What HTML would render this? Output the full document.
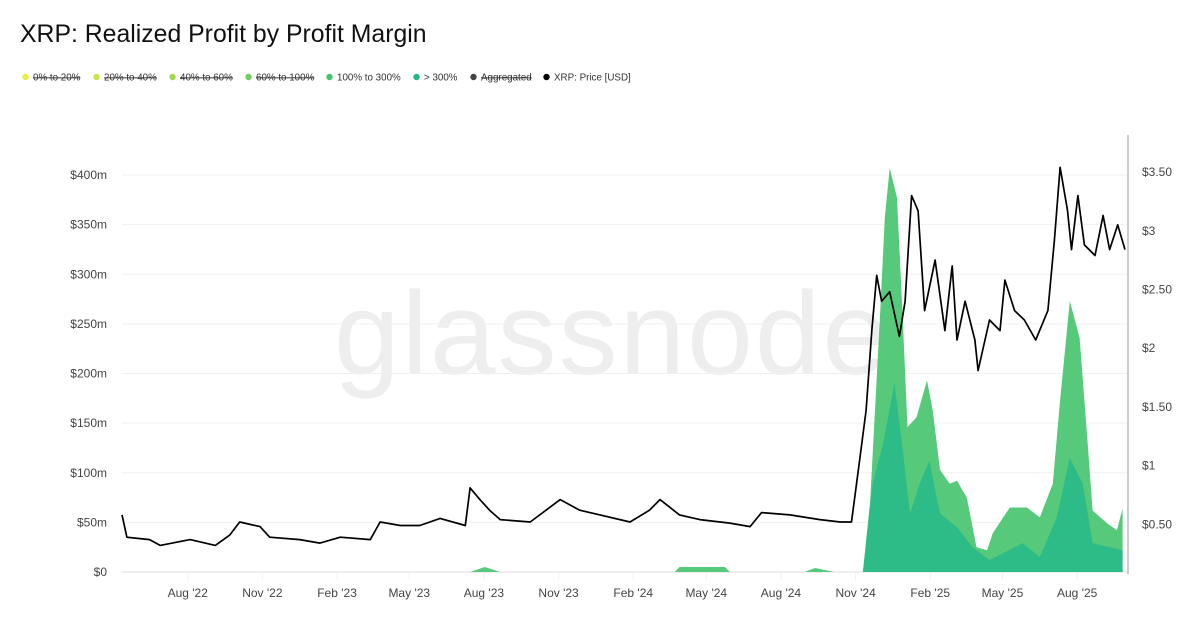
<!DOCTYPE html>
<html><head><meta charset="utf-8"><style>
body{margin:0;background:#fff;font-family:"Liberation Sans",sans-serif}
#wrap{position:relative;width:1200px;height:628px;overflow:hidden}
</style></head><body>
<div id="wrap">
<svg id="chart" width="1200" height="628">
<text x="20" y="42" font-size="24.8" fill="#111">XRP: Realized Profit by Profit Margin</text>
<g id="legend"></g>
<text x="612" y="374" font-size="118" fill="#eeeeee" text-anchor="middle" letter-spacing="2">glassnode</text>
<g id="grid"></g><g id="areas"></g><g id="line"></g><g id="axes"></g>
</svg>
</div>
<script>
const legendLabels=["0% to 20%","20% to 40%","40% to 60%","60% to 100%","100% to 300%","> 300%","Aggregated","XRP: Price [USD]"];
const legendColors=["#e6f03c","#c7e64a","#9fd94f","#6fcf5c","#45c46e","#25b882","#444","#000"];
const legendStruck=[true,true,true,true,false,false,true,false];
const leftTicks=[0,50,100,150,200,250,300,350,400];
const leftTickLabels=["$0","$50m","$100m","$150m","$200m","$250m","$300m","$350m","$400m"];
const rightTicks=[0.5,1,1.5,2,2.5,3,3.5];
const rightTickLabels=["$0.50","$1","$1.50","$2","$2.50","$3","$3.50"];
const xTickDays=[81,173,265,354,446,538,630,720,812,904,996,1085,1177];
const xTickLabels=["Aug '22","Nov '22","Feb '23","May '23","Aug '23","Nov '23","Feb '24","May '24","Aug '24","Nov '24","Feb '25","May '25","Aug '25"];
// days since 2022-05-12
const priceDays=[0,6,34,47,84,115,133,145,170,182,219,244,269,306,318,343,367,392,423,429,441,453,466,503,540,564,589,626,650,663,687,712,749,774,788,823,860,885,899,909,917,924,930,936,946,958,965,973,981,989,1002,1014,1023,1029,1039,1051,1055,1069,1082,1088,1100,1112,1126,1141,1149,1156,1165,1170,1178,1186,1199,1209,1217,1227,1236];
const price=[0.58,0.39,0.37,0.32,0.37,0.32,0.41,0.52,0.48,0.39,0.37,0.34,0.39,0.37,0.52,0.49,0.49,0.55,0.49,0.81,0.71,0.62,0.54,0.52,0.71,0.62,0.58,0.52,0.62,0.71,0.58,0.54,0.51,0.48,0.60,0.58,0.54,0.52,0.52,1.05,1.47,2.15,2.62,2.40,2.48,2.10,2.40,3.30,3.17,2.32,2.75,2.15,2.70,2.07,2.40,2.07,1.81,2.24,2.15,2.58,2.32,2.24,2.07,2.32,2.92,3.54,3.18,2.84,3.30,2.88,2.79,3.13,2.84,3.05,2.84];
const profit100Days=[0,429,447,466,681,687,743,749,841,854,878,913,922,934,940,946,955,962,968,979,992,999,1008,1020,1029,1041,1053,1066,1073,1094,1115,1131,1147,1156,1168,1180,1189,1196,1214,1226,1233];
const profit100=[0,0,5,0,0,5,5,0,0,4,0,0,72,256,357,407,377,256,146,156,193,163,103,89,92,75,25,22,39,65,65,55,89,173,273,236,140,62,49,42,64];
const profit300Days=[0,913,925,938,952,962,971,983,995,1008,1029,1048,1069,1110,1131,1152,1168,1184,1196,1233];
const profit300=[0,0,89,130,190,123,59,89,112,59,45,25,12,29,15,55,115,89,29,22];

const NS="http://www.w3.org/2000/svg";
const X0=122,X1=1127,PX=0.8115;
const xS=d=>X0+d*PX;
const yL=v=>572-v*0.9925;
const yR=p=>583-p*117.4;
function mk(tag,attrs,parent){const e=document.createElementNS(NS,tag);for(const k in attrs)e.setAttribute(k,attrs[k]);parent.appendChild(e);return e;}
const lg=document.getElementById('legend');
let lx=22;
const widths=[71,76,76,81,87,57,73,100];
legendLabels.forEach((t,i)=>{
  const c=mk('circle',{cx:lx+3.5,cy:77,r:3.2,fill:legendColors[i]},lg);
  
  
  const tx=mk('text',{x:lx+11,y:80.5,'font-size':9.8,fill:'#333'},lg);
  tx.textContent=t;
  if(legendStruck[i])tx.setAttribute('text-decoration','line-through');
  
  
  lx+=widths[i];
});
const grid=document.getElementById('grid'),axes=document.getElementById('axes');
leftTicks.forEach((v,i)=>{
  const l=mk('line',{x1:X0,x2:X1,y1:yL(v),y2:yL(v),stroke:'#f0f0f0','stroke-width':1},grid);
  
  
  const t=mk('text',{x:107,y:yL(v)+4,'font-size':12,fill:'#444','text-anchor':'end'},axes);
  t.textContent=leftTickLabels[i];
  
  
});
rightTicks.forEach((v,i)=>{
  const t=mk('text',{x:1142,y:yR(v)+4,'font-size':12,fill:'#444'},axes);
  t.textContent=rightTickLabels[i];
  
  
});
const ra=mk('line',{x1:1128,x2:1128,y1:135,y2:574,stroke:'#999','stroke-width':1},axes);


xTickDays.forEach((d,i)=>{
  const tk=mk('line',{x1:xS(d),x2:xS(d),y1:573,y2:580,stroke:'#f0f0f0'},grid);
  
  
  const t=mk('text',{x:xS(d),y:597,'font-size':12,fill:'#444','text-anchor':'middle'},axes);
  t.textContent=xTickLabels[i];
  
  
});
function area(days,vals,fill,name){
  let d='M'+xS(days[0])+','+yL(0);
  days.forEach((dd,i)=>{d+=' L'+xS(dd).toFixed(1)+','+yL(vals[i]).toFixed(1);});
  d+=' L'+xS(days[days.length-1])+','+yL(0)+' Z';
  const p=mk('path',{d:d,fill:fill},document.getElementById('areas'));
  
  
}
area(profit100Days,profit100,'#56c97a','area-100-to-300');
area(profit300Days,profit300,'#2dbb88','area-over-300');
const bl=mk('line',{x1:X0,x2:X1,y1:572,y2:572,stroke:'#ddd'},grid);


let pd='';
priceDays.forEach((dd,i)=>{pd+=(i?' L':'M')+xS(dd).toFixed(1)+','+yR(price[i]).toFixed(1);});
const pl=mk('path',{d:pd,fill:'none',stroke:'#000','stroke-width':1.7,'stroke-linejoin':'round'},document.getElementById('line'));


</script>
</body></html>
